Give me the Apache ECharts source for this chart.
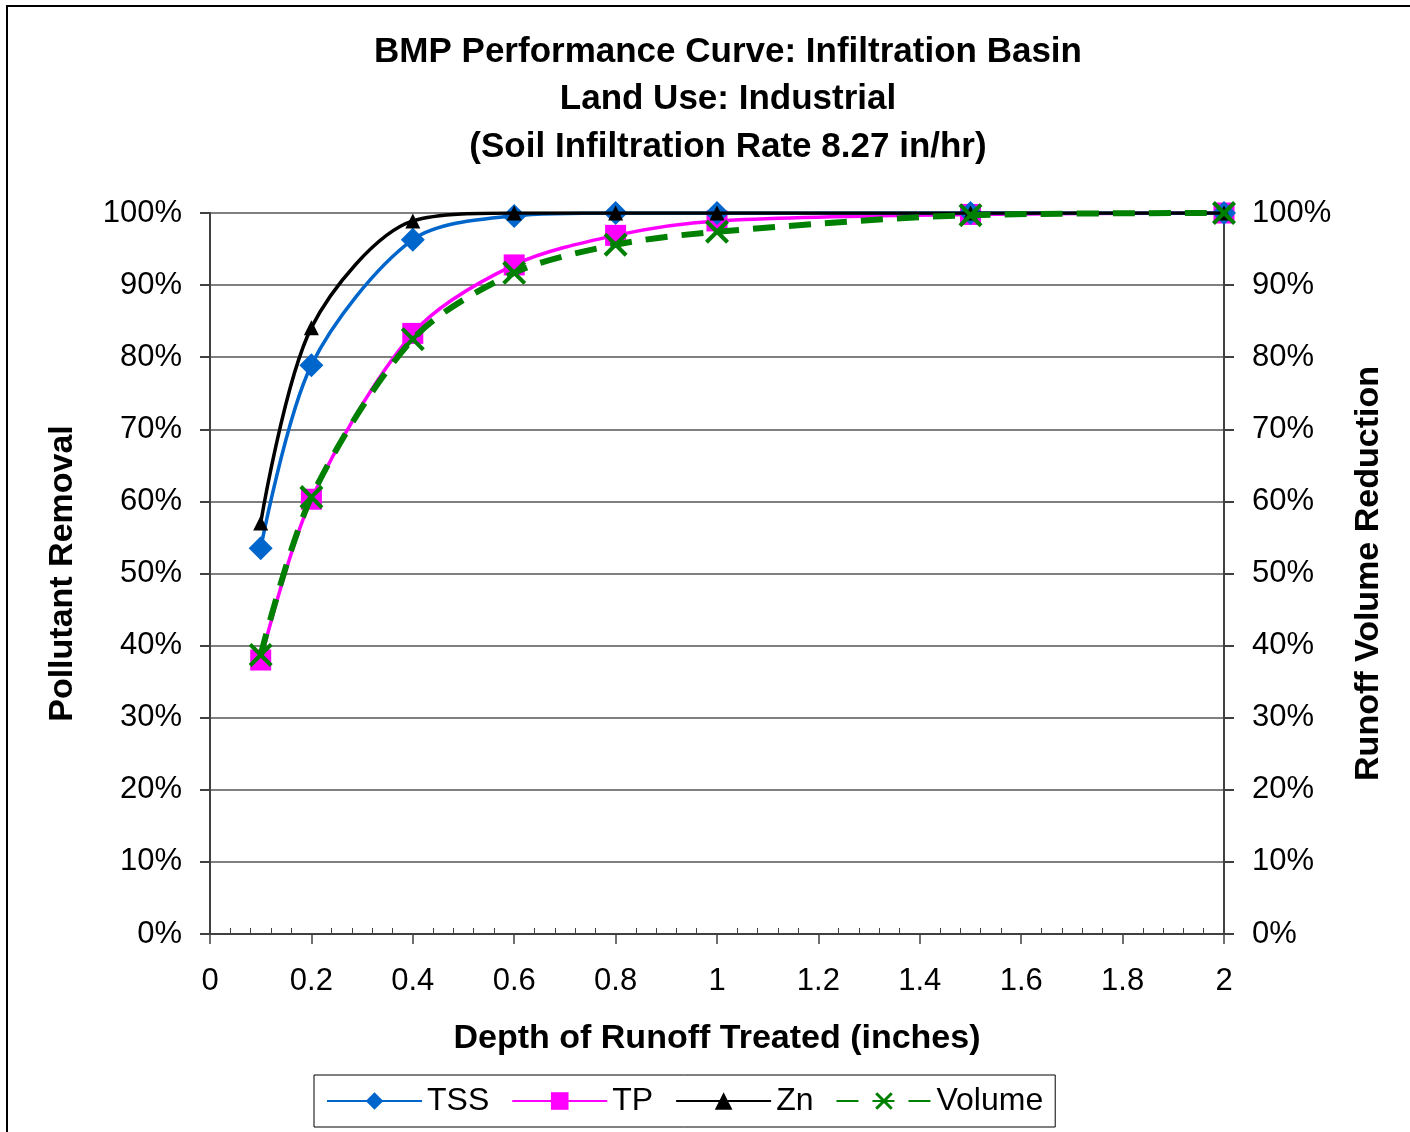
<!DOCTYPE html>
<html><head><meta charset="utf-8">
<script src="https://cdn.jsdelivr.net/npm/echarts@6/dist/echarts.min.js"></script>
<style>html,body{margin:0;padding:0;background:#fff}#c{width:1410px;height:1132px}</style>
</head><body><div id="c"></div>
<script>
const depth = [0.1, 0.2, 0.4, 0.6, 0.8, 1.0, 1.5, 2.0];
const tss = [53.5, 78.9, 96.3, 99.6, 100, 100, 100, 100];
const tp = [38.0, 60.3, 83.3, 92.8, 96.9, 98.9, 99.8, 100];
const zn = [57.0, 84.1, 98.9, 100, 100, 100, 100, 100];
const volume = [38.7, 60.6, 82.5, 91.7, 95.6, 97.4, 99.7, 100];
const titleLines = ['BMP Performance Curve: Infiltration Basin', 'Land Use: Industrial', '(Soil Infiltration Rate 8.27 in/hr)'];

const pairs = a => depth.map((d, i) => [d, a[i]]);
const F = 'Liberation Sans, Arial, sans-serif';
const chart = echarts.init(document.getElementById('c'));
const xPath = 'path://M0,1.2 L1.2,0 L10,8.8 L8.8,10 Z M8.8,0 L10,1.2 L1.2,10 L0,8.8 Z';
const yAxisBase = {
  type: 'value', min: 0, max: 100, interval: 10,
  axisLabel: { formatter: v => v + '%', fontFamily: F, fontSize: 31, color: '#000', margin: 28 },
  axisLine: { show: true, lineStyle: { color: '#404040', width: 2 } },
  axisTick: { show: true, length: 10, lineStyle: { color: '#404040', width: 2 } },
  nameTextStyle: { fontFamily: F, fontSize: 34, fontWeight: 'bold', color: '#000' },
  nameLocation: 'middle', nameRotate: 90
};
const titleGraphics = titleLines.map((t, i) => ({
  type: 'text', x: 728, y: 52 + i * 47.5, silent: true,
  style: { text: t, fontFamily: F, fontSize: 35, fontWeight: 'bold', fill: '#000', align: 'center', verticalAlign: 'middle' }
}));
chart.setOption({
  animation: false,
  backgroundColor: '#fff',
  grid: { left: 210, right: 186, top: 213, bottom: 198 },
  legend: {
    bottom: 5, left: 314,
    itemWidth: 95, itemHeight: 22, itemGap: 22,
    padding: [10, 12, 10, 12],
    borderColor: '#000', borderWidth: 1,
    textStyle: { fontFamily: F, fontSize: 32, color: '#000' },
    data: ['TSS', 'TP', 'Zn', 'Volume']
  },
  xAxis: {
    type: 'value', min: 0, max: 2, interval: 0.2,
    name: 'Depth of Runoff Treated (inches)', nameLocation: 'middle', nameGap: 88,
    nameTextStyle: { fontFamily: F, fontSize: 34, fontWeight: 'bold', color: '#000' },
    axisLabel: { fontFamily: F, fontSize: 31, color: '#000', margin: 32, formatter: v => String(+v.toFixed(1)) },
    axisLine: { show: true, onZero: false, lineStyle: { color: '#404040', width: 2 } },
    axisTick: { show: true, length: 10, lineStyle: { color: '#404040', width: 1.5 } },
    minorTick: { show: true, splitNumber: 5, length: -6, lineStyle: { color: '#404040', width: 1 } },
    splitLine: { show: false }
  },
  yAxis: [
    Object.assign({}, yAxisBase, {
      position: 'left', name: 'Pollutant Removal', nameGap: 130,
      splitLine: { show: true, lineStyle: { color: '#808080', width: 2 } }
    }),
    Object.assign({}, yAxisBase, {
      position: 'right', name: 'Runoff Volume Reduction', nameGap: 128, nameRotate: 90,
      splitLine: { show: false }
    })
  ],
  series: [
    { name: 'TSS', type: 'line', smooth: 0.3, data: pairs(tss), symbol: 'diamond', symbolSize: 24,
      lineStyle: { color: '#0066CC', width: 3.5 }, itemStyle: { color: '#0066CC' }, z: 3 },
    { name: 'TP', type: 'line', smooth: 0.3, data: pairs(tp), symbol: 'rect', symbolSize: 21,
      lineStyle: { color: '#FF00FF', width: 3.5 }, itemStyle: { color: '#FF00FF' }, z: 2 },
    { name: 'Zn', type: 'line', smooth: 0.3, data: pairs(zn), symbol: 'triangle', symbolSize: 15,
      lineStyle: { color: '#000', width: 3.5 }, itemStyle: { color: '#000' }, z: 4 },
    { name: 'Volume', type: 'line', smooth: 0.3, yAxisIndex: 1, data: pairs(volume), symbol: xPath, symbolSize: 24,
      lineStyle: { color: '#008000', width: 6, type: [22, 14] }, itemStyle: { color: '#008000' }, z: 5 }
  ],
  graphic: [
    { type: 'rect', shape: { x: 7, y: 6, width: 1420, height: 1140 }, style: { fill: 'none', stroke: '#000', lineWidth: 2 }, silent: true }
  ].concat(titleGraphics)
});
</script></body></html>
